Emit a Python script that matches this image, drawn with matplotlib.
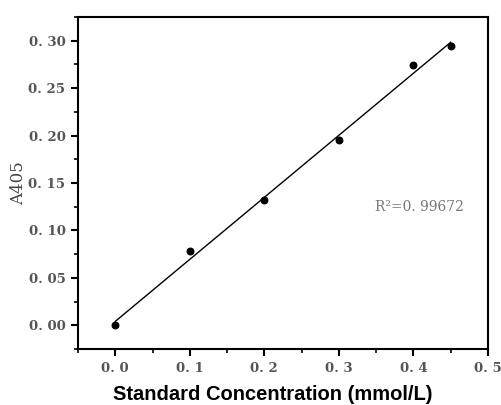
import matplotlib.pyplot as plt
import numpy as np
from matplotlib.ticker import MultipleLocator, FuncFormatter

conc = [0.0, 0.1, 0.2, 0.3, 0.4, 0.45]
a405 = [0.0, 0.078, 0.132, 0.195, 0.274, 0.294]
r2_text = "R²=0. 99672"

slope, intercept = np.polyfit(conc, a405, 1)
fit_x = np.array([conc[0], conc[-1]])
fit_y = slope * fit_x + intercept

fig = plt.figure(figsize=(5.02, 4.05), dpi=100)
ax = fig.add_axes([78 / 502, 1 - 349 / 405, 410 / 502, 332 / 405])

ax.plot(fit_x, fit_y, color="black", linewidth=1.0)
ax.scatter(conc, a405, s=22, color="black", zorder=3)

ax.set_xlim(-0.05, 0.5)
ax.set_ylim(-0.025, 0.325)
ax.xaxis.set_major_locator(MultipleLocator(0.1))
ax.xaxis.set_minor_locator(MultipleLocator(0.05))
ax.yaxis.set_major_locator(MultipleLocator(0.05))
ax.yaxis.set_minor_locator(MultipleLocator(0.025))
ax.xaxis.set_major_formatter(FuncFormatter(lambda v, p: f"{v:.1f}".replace(".", ". ")))
ax.yaxis.set_major_formatter(FuncFormatter(lambda v, p: f"{v:.2f}".replace(".", ". ")))

for side in ax.spines.values():
    side.set_linewidth(1.5)
ax.tick_params(which="major", direction="out", length=5, width=1.5,
               labelsize=9.5, labelcolor="#555555", pad=4)
ax.tick_params(which="minor", direction="out", length=3, width=1.2)
for lab in ax.get_xticklabels() + ax.get_yticklabels():
    lab.set_family("DejaVu Serif")
    lab.set_fontweight("bold")

# R^2 annotation
ax.text(0.349, 0.125, r2_text, fontsize=10, color="#777777",
        family="DejaVu Serif", va="center")

ax.set_ylabel("A405", family="DejaVu Serif", fontsize=12, color="#444444", va="center")
ax.yaxis.set_label_coords(-0.146, 0.5)
ax.set_xlabel("Standard Concentration (mmol/L)", family="Liberation Sans",
              fontsize=14.5, fontweight="bold", va="baseline")
ax.xaxis.set_label_coords(0.476, -51 / 332)

fig.savefig("out.png", dpi=100)
